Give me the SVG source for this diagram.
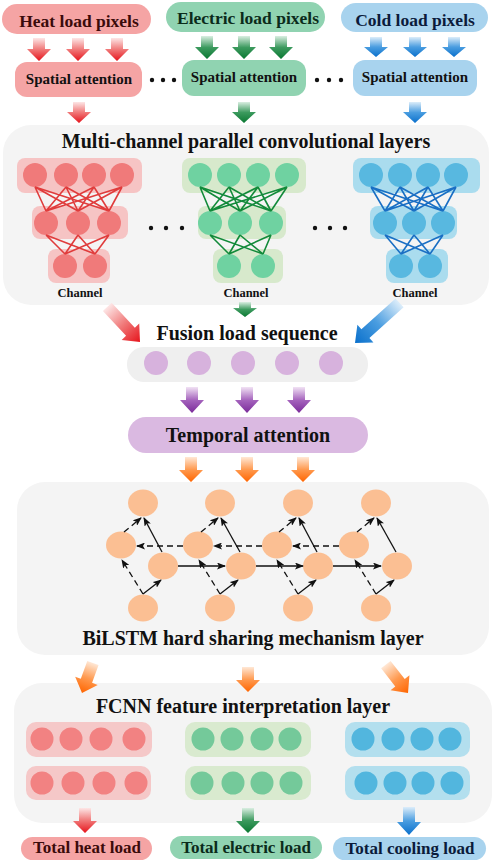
<svg xmlns="http://www.w3.org/2000/svg" xmlns:xlink="http://www.w3.org/1999/xlink" width="498" height="861" viewBox="0 0 498 861">
<style>
text{font-family:"Liberation Serif","Times New Roman",serif;font-weight:bold;text-anchor:middle;fill:#111}
.t1{font-size:17.5px}
.t2{font-size:15px}
.t3{font-size:20px}
.t4{font-size:12.5px}
.t5{font-size:17px}
.th{fill:#3b0b0b}.tg{fill:#0b2b1b}.tb{fill:#0b1b3b}
.panel{fill:#f4f4f4}
.bh{fill:#f5a4a4}.bg{fill:#90d3b1}.bb{fill:#a8d3ee}
.lh{fill:#f6c4c4}.lg{fill:#d7e9cc}.lb{fill:#aadcee}
.ch{fill:#f07a7a}.cg{fill:#6fd2a1}.cb{fill:#58b8e0}
.fh{fill:#f5c8c8}.fg{fill:#d9eacf}.fb{fill:#b3dfee}
.fch{fill:#f28282}.fcg{fill:#74c99a}.fcb{fill:#52b6de}
.nd{fill:#fbbf93}
.pc{fill:#d7b2dd}
.dot{fill:#111}
.wh{stroke:#e03c3c;stroke-width:1.6;fill:none}
.wg{stroke:#128a3a;stroke-width:1.6;fill:none}
.wb{stroke:#1a6fc4;stroke-width:1.6;fill:none}
.sl{stroke:#111;stroke-width:1.3;fill:none;marker-end:url(#ah)}
.ds{stroke:#111;stroke-width:1.3;fill:none;stroke-dasharray:6,4;marker-end:url(#ah)}
</style>
<defs>
<linearGradient id="gR" x1="0" y1="0" x2="0" y2="1"><stop offset="0" stop-color="#fde6e6"/><stop offset="0.5" stop-color="#f07878"/><stop offset="1" stop-color="#e6141c"/></linearGradient>
<linearGradient id="gG" x1="0" y1="0" x2="0" y2="1"><stop offset="0" stop-color="#d9eee1"/><stop offset="0.5" stop-color="#3c9a5e"/><stop offset="1" stop-color="#0a7832"/></linearGradient>
<linearGradient id="gB" x1="0" y1="0" x2="0" y2="1"><stop offset="0" stop-color="#dcedfa"/><stop offset="0.5" stop-color="#4a9de0"/><stop offset="1" stop-color="#0a70cc"/></linearGradient>
<linearGradient id="gP" x1="0" y1="0" x2="0" y2="1"><stop offset="0" stop-color="#f1e2f4"/><stop offset="0.5" stop-color="#a564bd"/><stop offset="1" stop-color="#7a2a9a"/></linearGradient>
<linearGradient id="gO" x1="0" y1="0" x2="0" y2="1"><stop offset="0" stop-color="#ffe8d6"/><stop offset="0.5" stop-color="#ff9a50"/><stop offset="1" stop-color="#ff6500"/></linearGradient>
<path id="a15" d="M-6,-15H6V-9H12L0,0L-12,-9H-6Z"/>
<path id="a20" d="M-6,-20H6V-10H12L0,0L-12,-10H-6Z"/>
<path id="a21" d="M-6,-21H6V-11H12L0,0L-12,-11H-6Z"/>
<path id="a23" d="M-6,-23H6V-12H12L0,0L-12,-12H-6Z"/>
<path id="a25" d="M-6,-25H6V-12H12L0,0L-12,-12H-6Z"/>
<path id="a26" d="M-6,-26H6V-13H12L0,0L-12,-13H-6Z"/>
<path id="a28" d="M-6,-28H6V-13H12L0,0L-12,-13H-6Z"/>
<path id="a32" d="M-6,-32H6V-13H12L0,0L-12,-13H-6Z"/>
<path id="a36" d="M-6,-36H6V-13H12L0,0L-12,-13H-6Z"/>
<path id="a48" d="M-6,-48H6V-14H12L0,0L-12,-14H-6Z"/>
<path id="a60" d="M-6,-60H6V-14H12L0,0L-12,-14H-6Z"/>
<marker id="ah" markerWidth="9" markerHeight="7" refX="8" refY="3.5" orient="auto" markerUnits="userSpaceOnUse"><path d="M0,0L9,3.5L0,7L2,3.5Z" fill="#111"/></marker>
</defs>

<g id="panels">
<rect id="cnn-panel" class="panel" x="3" y="125" width="486" height="180" rx="28"/>
<rect id="fusion-panel" fill="#efefef" x="127" y="347" width="241" height="35" rx="17"/>
<rect id="bilstm-panel" class="panel" x="17" y="482" width="472" height="173" rx="28"/>
<rect id="fcnn-panel" class="panel" x="14" y="683" width="478" height="140" rx="28"/>
</g>

<g id="heat-input"><rect class="bh" x="2" y="4" width="149" height="30" rx="15"/><text class="t1 th" x="79" y="27">Heat load pixels</text></g>
<g id="electric-input"><rect class="bg" x="166" y="2" width="159" height="30" rx="15"/><text class="t1 tg" x="248" y="24">Electric load pixels</text></g>
<g id="cold-input"><rect class="bb" x="341" y="3" width="147" height="29" rx="15"/><text class="t1 tb" x="415" y="26">Cold load pixels</text></g>

<g id="spatial-heat"><rect class="bh" x="15" y="62" width="127" height="35" rx="12"/><text class="t2" x="79" y="84">Spatial attention</text></g>
<g id="spatial-electric"><rect class="bg" x="182" y="60" width="124" height="36" rx="12"/><text class="t2" x="244" y="82">Spatial attention</text></g>
<g id="spatial-cold"><rect class="bb" x="353" y="60" width="124" height="36" rx="12"/><text class="t2" x="415" y="82">Spatial attention</text></g>
<g id="dots-top"><circle class="dot" cx="152" cy="80" r="2.2"/><circle class="dot" cx="163" cy="80" r="2.2"/><circle class="dot" cx="174" cy="80" r="2.2"/><circle class="dot" cx="317" cy="80" r="2.2"/><circle class="dot" cx="329" cy="80" r="2.2"/><circle class="dot" cx="341" cy="80" r="2.2"/></g>

<g id="cnn-title"><text class="t3" x="246" y="148">Multi-channel parallel convolutional layers</text></g>

<g id="cnn-heat">
<rect class="lh" x="17" y="158" width="125" height="35" rx="8"/><rect class="lh" x="32" y="206" width="96" height="33" rx="8"/><rect class="lh" x="48" y="249" width="62" height="34" rx="8"/>
<circle class="ch" cx="35" cy="175" r="12"/><circle class="ch" cx="66" cy="175" r="12"/><circle class="ch" cx="94" cy="175" r="12"/><circle class="ch" cx="122" cy="175" r="12"/>
<circle class="ch" cx="46" cy="223" r="12"/><circle class="ch" cx="78" cy="223" r="12"/><circle class="ch" cx="109" cy="223" r="12"/>
<circle class="ch" cx="65" cy="266" r="12"/><circle class="ch" cx="95" cy="266" r="12"/>
<text class="t4" x="80" y="297">Channel</text>
</g>
<g id="cnn-electric">
<rect class="lg" x="182" y="158" width="124" height="35" rx="8"/><rect class="lg" x="198" y="206" width="88" height="33" rx="8"/><rect class="lg" x="213" y="249" width="70" height="34" rx="8"/>
<circle class="cg" cx="200" cy="175" r="12"/><circle class="cg" cx="229" cy="175" r="12"/><circle class="cg" cx="258" cy="175" r="12"/><circle class="cg" cx="287" cy="175" r="12"/>
<circle class="cg" cx="210" cy="223" r="12"/><circle class="cg" cx="240" cy="223" r="12"/><circle class="cg" cx="271" cy="223" r="12"/>
<circle class="cg" cx="229" cy="266" r="12"/><circle class="cg" cx="263" cy="266" r="12"/>
<text class="t4" x="246" y="297">Channel</text>
</g>
<g id="cnn-cold">
<rect class="lb" x="353" y="158" width="127" height="35" rx="8"/><rect class="lb" x="370" y="206" width="87" height="33" rx="8"/><rect class="lb" x="386" y="249" width="62" height="34" rx="8"/>
<circle class="cb" cx="371" cy="175" r="12"/><circle class="cb" cx="400" cy="175" r="12"/><circle class="cb" cx="428" cy="175" r="12"/><circle class="cb" cx="456" cy="175" r="12"/>
<circle class="cb" cx="385" cy="223" r="12"/><circle class="cb" cx="414" cy="223" r="12"/><circle class="cb" cx="443" cy="223" r="12"/>
<circle class="cb" cx="401" cy="266" r="12"/><circle class="cb" cx="430" cy="266" r="12"/>
<text class="t4" x="415" y="297">Channel</text>
</g>
<g id="dots-mid"><circle class="dot" cx="151" cy="228" r="2.2"/><circle class="dot" cx="166" cy="228" r="2.2"/><circle class="dot" cx="182" cy="228" r="2.2"/><circle class="dot" cx="315" cy="228" r="2.2"/><circle class="dot" cx="330" cy="228" r="2.2"/><circle class="dot" cx="345" cy="228" r="2.2"/></g>

<g id="fusion">
<text class="t3" x="247" y="340">Fusion load sequence</text>
<circle class="pc" cx="156" cy="363" r="12"/><circle class="pc" cx="199" cy="363" r="12"/><circle class="pc" cx="243" cy="363" r="12"/><circle class="pc" cx="287" cy="363" r="12"/><circle class="pc" cx="331" cy="363" r="12"/>
</g>

<g id="temporal"><rect fill="#dab9e1" x="128" y="417" width="240" height="36" rx="18"/><text class="t3" x="248" y="442">Temporal attention</text></g>

<g id="bilstm">
<ellipse class="nd" cx="143" cy="503" rx="15" ry="13.5"/><ellipse class="nd" cx="220" cy="503" rx="15" ry="13.5"/><ellipse class="nd" cx="298" cy="503" rx="15" ry="13.5"/><ellipse class="nd" cx="376" cy="503" rx="15" ry="13.5"/>
<ellipse class="nd" cx="121" cy="545" rx="15" ry="13.5"/><ellipse class="nd" cx="198" cy="545" rx="15" ry="13.5"/><ellipse class="nd" cx="277" cy="545" rx="15" ry="13.5"/><ellipse class="nd" cx="354" cy="545" rx="15" ry="13.5"/>
<ellipse class="nd" cx="163" cy="566" rx="15" ry="13.5"/><ellipse class="nd" cx="241" cy="566" rx="15" ry="13.5"/><ellipse class="nd" cx="318" cy="566" rx="15" ry="13.5"/><ellipse class="nd" cx="397" cy="566" rx="15" ry="13.5"/>
<ellipse class="nd" cx="143" cy="608" rx="15" ry="13.5"/><ellipse class="nd" cx="220" cy="608" rx="15" ry="13.5"/><ellipse class="nd" cx="298" cy="608" rx="15" ry="13.5"/><ellipse class="nd" cx="376" cy="608" rx="15" ry="13.5"/>
<text class="t3" x="253" y="645">BiLSTM hard sharing mechanism layer</text>
</g>

<g id="fcnn">
<text class="t3" x="243" y="713">FCNN feature interpretation layer</text>
<rect class="fh" x="26" y="722" width="126" height="35" rx="10"/><rect class="fh" x="26" y="766" width="125" height="34" rx="10"/>
<circle class="fch" cx="42" cy="739" r="11.5"/><circle class="fch" cx="71" cy="739" r="11.5"/><circle class="fch" cx="101" cy="739" r="11.5"/><circle class="fch" cx="134" cy="739" r="11.5"/>
<circle class="fch" cx="42" cy="783" r="11.5"/><circle class="fch" cx="73" cy="783" r="11.5"/><circle class="fch" cx="104" cy="783" r="11.5"/><circle class="fch" cx="136" cy="783" r="11.5"/>
<rect class="fg" x="185" y="722" width="126" height="35" rx="10"/><rect class="fg" x="185" y="766" width="126" height="34" rx="10"/>
<circle class="fcg" cx="203" cy="739" r="11.5"/><circle class="fcg" cx="232" cy="739" r="11.5"/><circle class="fcg" cx="262" cy="739" r="11.5"/><circle class="fcg" cx="290" cy="739" r="11.5"/>
<circle class="fcg" cx="202" cy="783" r="11.5"/><circle class="fcg" cx="233" cy="783" r="11.5"/><circle class="fcg" cx="262" cy="783" r="11.5"/><circle class="fcg" cx="291" cy="783" r="11.5"/>
<rect class="fb" x="345" y="722" width="125" height="35" rx="10"/><rect class="fb" x="345" y="766" width="125" height="34" rx="10"/>
<circle class="fcb" cx="363" cy="739" r="11.5"/><circle class="fcb" cx="393" cy="739" r="11.5"/><circle class="fcb" cx="422" cy="739" r="11.5"/><circle class="fcb" cx="450" cy="739" r="11.5"/>
<circle class="fcb" cx="366" cy="783" r="11.5"/><circle class="fcb" cx="395" cy="783" r="11.5"/><circle class="fcb" cx="423" cy="783" r="11.5"/><circle class="fcb" cx="452" cy="783" r="11.5"/>
</g>

<g id="out-heat"><rect class="bh" x="21" y="837" width="131" height="23" rx="11.5"/><text class="t5 th" x="87" y="853">Total heat load</text></g>
<g id="out-electric"><rect class="bg" x="170" y="836" width="152" height="23" rx="11.5"/><text class="t5 tg" x="246" y="853">Total electric load</text></g>
<g id="out-cold"><rect class="bb" x="333" y="837" width="153" height="23" rx="11.5"/><text class="t5 tb" x="410" y="854">Total cooling load</text></g>

<g id="connectors">
<use href="#a23" fill="url(#gR)" transform="translate(39,61)"/>
<use href="#a23" fill="url(#gR)" transform="translate(78,61)"/>
<use href="#a23" fill="url(#gR)" transform="translate(117,61)"/>
<use href="#a23" fill="url(#gG)" transform="translate(207,59)"/>
<use href="#a23" fill="url(#gG)" transform="translate(244,59)"/>
<use href="#a23" fill="url(#gG)" transform="translate(281,59)"/>
<use href="#a20" fill="url(#gB)" transform="translate(376,57)"/>
<use href="#a20" fill="url(#gB)" transform="translate(415,57)"/>
<use href="#a20" fill="url(#gB)" transform="translate(454,57)"/>
<use href="#a21" fill="url(#gR)" transform="translate(79,123)"/>
<use href="#a21" fill="url(#gG)" transform="translate(244,123)"/>
<use href="#a21" fill="url(#gB)" transform="translate(415,123)"/>
<path class="wh" d="M35,187L46,211M35,187L78,211M35,187L109,211M66,187L46,211M66,187L78,211M66,187L109,211M94,187L46,211M94,187L78,211M94,187L109,211M122,187L46,211M122,187L78,211M122,187L109,211M46,235L65,254M46,235L95,254M78,235L65,254M78,235L95,254M109,235L65,254M109,235L95,254"/>
<path class="wg" d="M200,187L210,211M200,187L240,211M200,187L271,211M229,187L210,211M229,187L240,211M229,187L271,211M258,187L210,211M258,187L240,211M258,187L271,211M287,187L210,211M287,187L240,211M287,187L271,211M210,235L229,254M210,235L263,254M240,235L229,254M240,235L263,254M271,235L229,254M271,235L263,254"/>
<path class="wb" d="M371,187L385,211M371,187L414,211M371,187L443,211M400,187L385,211M400,187L414,211M400,187L443,211M428,187L385,211M428,187L414,211M428,187L443,211M456,187L385,211M456,187L414,211M456,187L443,211M385,235L401,254M385,235L430,254M414,235L401,254M414,235L430,254M443,235L401,254M443,235L430,254"/>
<use href="#a48" fill="url(#gR)" transform="translate(140,342) rotate(-43)"/>
<use href="#a15" fill="url(#gG)" transform="translate(245,317)"/>
<use href="#a60" fill="url(#gB)" transform="translate(355,343) rotate(48)"/>
<use href="#a26" fill="url(#gP)" transform="translate(192,413)"/>
<use href="#a26" fill="url(#gP)" transform="translate(247,413)"/>
<use href="#a26" fill="url(#gP)" transform="translate(299,413)"/>
<use href="#a25" fill="url(#gO)" transform="translate(191,482)"/>
<use href="#a25" fill="url(#gO)" transform="translate(247,482)"/>
<use href="#a25" fill="url(#gO)" transform="translate(303,482)"/>
<use href="#a32" fill="url(#gO)" transform="translate(82,693) rotate(20)"/>
<use href="#a25" fill="url(#gO)" transform="translate(248,692)"/>
<use href="#a36" fill="url(#gO)" transform="translate(408,693) rotate(-38)"/>
<use href="#a25" fill="url(#gR)" transform="translate(85,833)"/>
<use href="#a25" fill="url(#gG)" transform="translate(248,833)"/>
<use href="#a28" fill="url(#gB)" transform="translate(409,835)"/>
<g id="bilstm-arrows">
<path class="sl" d="M143,594L161,580"/><path class="ds" d="M143,594L122,560"/><path class="ds" d="M124,532L141,518"/><path class="sl" d="M162,552L144,518"/>
<path class="sl" d="M220,594L238,580"/><path class="ds" d="M220,594L199,560"/><path class="ds" d="M201,532L218,518"/><path class="sl" d="M240,552L221,518"/>
<path class="sl" d="M298,594L316,580"/><path class="ds" d="M298,594L277,560"/><path class="ds" d="M279,532L296,518"/><path class="sl" d="M317,552L299,518"/>
<path class="sl" d="M376,594L394,580"/><path class="ds" d="M376,594L355,560"/><path class="ds" d="M357,532L374,518"/><path class="sl" d="M396,552L377,518"/>
<path class="sl" d="M178,566L225,566"/><path class="sl" d="M256,566L303,566"/><path class="sl" d="M333,566L381,566"/>
<path class="ds" d="M183,546L137,546"/><path class="ds" d="M262,546L214,546"/><path class="ds" d="M339,546L293,546"/>
</g>
</g>
</svg>
